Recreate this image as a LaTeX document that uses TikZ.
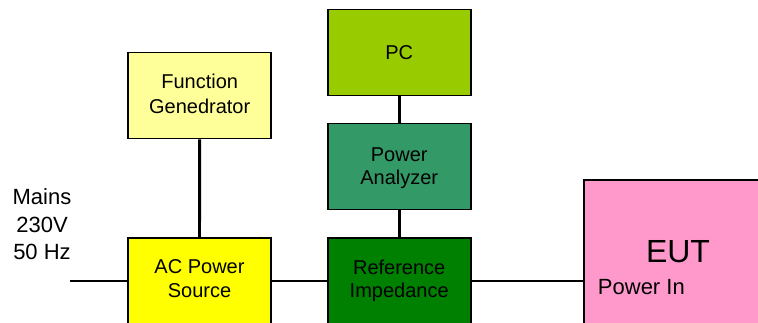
\documentclass[tikz,border=0pt]{standalone}
\usepackage{fontspec}
\setmainfont{Liberation Sans}
\definecolor{fgyellow}{HTML}{FFFF99}
\definecolor{acyellow}{HTML}{FFFF00}
\definecolor{pcgreen}{HTML}{99CC00}
\definecolor{pagreen}{HTML}{339966}
\definecolor{rigreen}{HTML}{008000}
\definecolor{eutpink}{HTML}{FF99CC}
\begin{document}
\begin{tikzpicture}[x=0.75pt,y=-0.75pt,
  box/.style={draw=black, line width=1.2pt, inner sep=0pt, minimum width=107.25pt, minimum height=64.5pt},
  edge/.style={draw=black, line width=1.2pt},
  wire/.style={draw=black, line width=2.2pt},
  lbl/.style={anchor=base, inner sep=0pt, font=\fontsize{15}{18}\selectfont},
  bigl/.style={anchor=base, inner sep=0pt, font=\fontsize{16.5}{20}\selectfont}]
\useasboundingbox (0,0) rectangle (758,323);
\begin{scope}
\clip (0,0) rectangle (758,323);
% boxes
\node[box, fill=pcgreen] (pc) at (399.2,52.5) {};
\node[box, fill=fgyellow] (fg) at (199.7,95.5) {};
\node[box, fill=pagreen] (pa) at (399.2,166.7) {};
\node[box, fill=acyellow, minimum height=75pt] (ac) at (199.5,288) {};
\node[box, fill=rigreen, minimum height=75pt] (ri) at (399.2,288) {};
\node[box, draw=none, fill=eutpink, minimum width=225pt, minimum height=119.25pt] (eut) at (735,260.5) {};
\draw[edge] (eut.south west) -- (eut.north west) -- (eut.north east);
\end{scope}
% wires
\coordinate (mains) at (70,281);
\draw[wire] (mains) -- (ac.west |- mains);
\draw[wire] (ac.east |- mains) -- (ri.west |- mains);
\draw[wire] (ri.east |- mains) -- (eut.west |- mains);
\draw[wire] (fg.south) -- (ac.north);
\draw[wire] (pc.south) -- (pa.north);
\draw[wire] (pa.south) -- (ri.north);
% texts
\node[bigl] (m1) at (42,205) {Mains};
\node[bigl] (m2) at (42,232.7) {230V};
\node[bigl] (m3) at (42,260) {50 Hz};
\node[lbl] (fg1) at (199.7,88.3) {Function};
\node[lbl] (fg2) at (199.7,113.3) {Genedrator};
\node[lbl] (pc1) at (399.2,59.3) {PC};
\node[lbl] (pa1) at (399.2,161.7) {Power};
\node[lbl] (pa2) at (399.2,185) {Analyzer};
\node[lbl] (ac1) at (199.5,274) {AC Power};
\node[lbl] (ac2) at (199.5,298) {Source};
\node[lbl] (ri1) at (399.2,275) {Reference};
\node[lbl] (ri2) at (399.2,298) {Impedance};
\node[anchor=base, inner sep=0pt, font=\fontsize{24}{28}\selectfont] (eut1) at (678,263) {EUT};
\node[bigl, anchor=base west] (eut2) at (597.7,295) {Power In};
\end{tikzpicture}
\end{document}
